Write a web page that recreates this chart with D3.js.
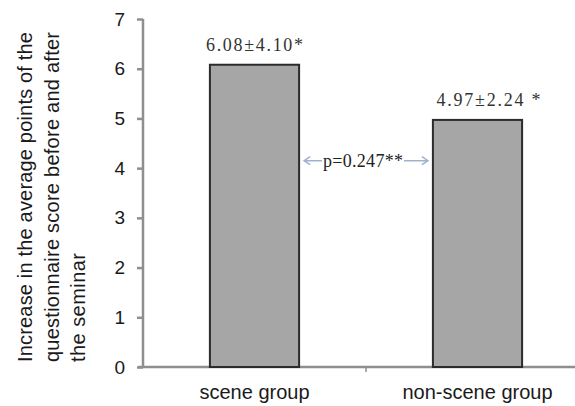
<!DOCTYPE html>
<html>
<head>
<meta charset="utf-8">
<script src="https://cdn.jsdelivr.net/npm/d3@7"></script>
<style>
  html, body { margin: 0; padding: 0; background: #fff; }
  svg { display: block; }
</style>
</head>
<body>
<svg id="chart" width="575" height="406"></svg>
<script>
// ---- data ----
const categories = ["scene group", "non-scene group"];
const values = [6.08, 4.97];
const valueLabels = ["6.08±4.10*", "4.97±2.24 *"];
const yTicks = [0, 1, 2, 3, 4, 5, 6, 7];
const yTitleLines = ["Increase in the average points of the", "questionnaire score before and after", "the seminar"];
const pLabel = "p=0.247**";
const pLevel = 4.15;

(function () {
// ---- layout ----
const svg = d3.select("#chart");
const mLeft = 143, mRight = 589, mTop = 19, mBottom = 367;
const axisColor = "#8f8f8f";

const x = d3.scaleBand().domain(categories).range([mLeft, mRight])
  .paddingInner(0.6).paddingOuter(0.3);
const y = d3.scaleLinear().domain([0, 7]).range([mBottom, mTop]);

// y axis
const yAxis = svg.append("g").attr("transform", `translate(${mLeft},0)`)
  .call(d3.axisLeft(y).tickValues(yTicks).tickFormat(d3.format("d")).tickSize(6).tickPadding(12));
yAxis.select(".domain").attr("stroke", axisColor).attr("stroke-width", 2.5).attr("d", `M0,${mTop}V${mBottom}`);
yAxis.selectAll(".tick line").attr("stroke", axisColor).attr("stroke-width", 2.5);
yAxis.selectAll(".tick text").attr("fill", "#1a1a1a")
  .style("font-family", "'Liberation Sans', Arial, sans-serif").style("font-size", "19px");

// x axis line + boundary ticks
const step = x.step();
const bounds = [mLeft, mLeft + step, mLeft + 2 * step];
svg.append("line").attr("x1", mLeft - 5).attr("x2", mRight).attr("y1", mBottom).attr("y2", mBottom)
  .attr("stroke", axisColor).attr("stroke-width", 2.5);
svg.selectAll(".xtick").data(bounds.slice(1)).join("line")
  .attr("x1", d => d).attr("x2", d => d).attr("y1", mBottom).attr("y2", mBottom + 5)
  .attr("stroke", axisColor).attr("stroke-width", 1.5);

// bars
svg.selectAll(".bar").data(values).join("rect")
  .attr("x", (d, i) => x(categories[i]))
  .attr("y", d => y(d))
  .attr("width", x.bandwidth())
  .attr("height", d => y(0) - y(d))
  .attr("fill", "#a6a6a6").attr("stroke", "#2b2b2b").attr("stroke-width", 2);

// value labels
const labelLen = [97, 104];
const labelDx = [0, 11];
svg.selectAll(".vlab").data(values).join("text")
  .attr("x", (d, i) => x(categories[i]) + x.bandwidth() / 2 + labelDx[i])
  .attr("y", d => y(d) - 14)
  .attr("text-anchor", "middle")
  .attr("textLength", (d, i) => labelLen[i])
  .attr("fill", "#333")
  .style("font-family", "'Liberation Serif', 'Times New Roman', serif").style("font-size", "18px")
  .text((d, i) => valueLabels[i]);

// category labels
svg.selectAll(".clab").data(categories).join("text")
  .attr("x", d => x(d) + x.bandwidth() / 2)
  .attr("y", 399)
  .attr("text-anchor", "middle")
  .attr("fill", "#1a1a1a")
  .style("font-family", "'Liberation Sans', Arial, sans-serif").style("font-size", "20px")
  .text(d => d);

// y title
const titleLens = [330, 330, 109];
const titleX = [32, 59, 85];
svg.selectAll(".ytitle").data(yTitleLines).join("text")
  .attr("transform", (d, i) => `translate(${titleX[i]},362) rotate(-90)`)
  .attr("text-anchor", "start")
  .attr("textLength", (d, i) => titleLens[i])
  .attr("fill", "#1a1a1a")
  .style("font-family", "'Liberation Sans', Arial, sans-serif").style("font-size", "20px")
  .text(d => d);

// p-value double arrow
const ay = y(pLevel);
const ax1 = x(categories[0]) + x.bandwidth() + 5;
const ax2 = x(categories[1]) - 5;
const arrowColor = "#9fb2ca";
const g = svg.append("g");
g.append("line").attr("x1", ax1).attr("x2", ax2).attr("y1", ay).attr("y2", ay)
  .attr("stroke", arrowColor).attr("stroke-width", 1.5);
g.append("path").attr("d", `M${ax1 + 6},${ay - 4}L${ax1},${ay}L${ax1 + 6},${ay + 4}`)
  .attr("fill", "none").attr("stroke", arrowColor).attr("stroke-width", 1.5);
g.append("path").attr("d", `M${ax2 - 6},${ay - 4}L${ax2},${ay}L${ax2 - 6},${ay + 4}`)
  .attr("fill", "none").attr("stroke", arrowColor).attr("stroke-width", 1.5);
const pt = g.append("text")
  .attr("x", 323).attr("y", ay + 6)
  .attr("textLength", 80)
  .attr("fill", "#222")
  .style("font-family", "'Liberation Serif', 'Times New Roman', serif").style("font-size", "18px")
  .text(pLabel);
const bb = pt.node().getBBox();
g.insert("rect", "text").attr("x", bb.x - 1).attr("y", ay - 3).attr("width", bb.width + 2).attr("height", 6).attr("fill", "#fff");
})();
</script>
</body>
</html>
